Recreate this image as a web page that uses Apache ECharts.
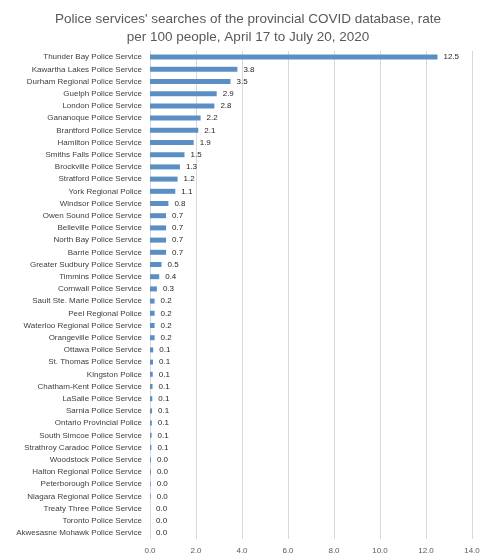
<!DOCTYPE html>
<html>
<head>
<meta charset="utf-8">
<script src="https://cdn.jsdelivr.net/npm/echarts@6/dist/echarts.min.js"></script>
<style>html,body{margin:0;padding:0;background:#fff}#chart{width:496px;height:560px}</style>
</head>
<body>
<div id="chart"></div>
<script>
// police services, top to bottom
var services = [
    'Thunder Bay Police Service', 'Kawartha Lakes Police Service', 'Durham Regional Police Service',
    'Guelph Police Service', 'London Police Service', 'Gananoque Police Service',
    'Brantford Police Service', 'Hamilton Police Service', 'Smiths Falls Police Service',
    'Brockville Police Service', 'Stratford Police Service', 'York Regional Police',
    'Windsor Police Service', 'Owen Sound Police Service', 'Belleville Police Service',
    'North Bay Police Service', 'Barrie Police Service', 'Greater Sudbury Police Service',
    'Timmins Police Service', 'Cornwall Police Service', 'Sault Ste. Marie Police Service',
    'Peel Regional Police', 'Waterloo Regional Police Service', 'Orangeville Police Service',
    'Ottawa Police Service', 'St. Thomas Police Service', 'Kingston Police',
    'Chatham-Kent Police Service', 'LaSalle Police Service', 'Sarnia Police Service',
    'Ontario Provincial Police', 'South Simcoe Police Service', 'Strathroy Caradoc Police Service',
    'Woodstock Police Service', 'Halton Regional Police Service', 'Peterborough Police Service',
    'Niagara Regional Police Service', 'Treaty Three Police Service', 'Toronto Police Service',
    'Akwesasne Mohawk Police Service'
];
var rates = [
    12.5, 3.8, 3.5, 2.9, 2.8, 2.2, 2.1, 1.9, 1.5, 1.3, 1.2, 1.1, 0.8, 0.7, 0.7, 0.7, 0.7,
    0.5, 0.4, 0.3, 0.2, 0.2, 0.2, 0.2, 0.14, 0.13, 0.12, 0.11, 0.1, 0.09, 0.08, 0.07, 0.06,
    0.04, 0.04, 0.03, 0.03, 0.0, 0.0, 0.0
];

var chart = echarts.init(document.getElementById('chart'));
chart.setOption({
    animation: false,
    title: {
        text: "Police services' searches of the provincial COVID database, rate\nper 100 people, April 17 to July 20, 2020",
        left: 'center', top: 5,
        textStyle: { fontFamily: 'Liberation Sans', fontSize: 13.5, fontWeight: 'normal', color: '#595959', lineHeight: 18 }
    },
    grid: { left: 150, right: 24, top: 51, bottom: 21 },
    xAxis: {
        type: 'value', min: 0, max: 14, interval: 2,
        axisLabel: { formatter: function (v) { return v.toFixed(1); }, fontFamily: 'Liberation Sans', fontSize: 8, color: '#595959' },
        splitLine: { lineStyle: { color: '#d9d9d9' } },
        axisLine: { show: false }, axisTick: { show: false }
    },
    yAxis: {
        type: 'category', inverse: true, data: services,
        axisLabel: { fontFamily: 'Liberation Sans', fontSize: 8, color: '#404040', margin: 8 },
        axisLine: { lineStyle: { color: '#d9d9d9' } }, axisTick: { show: false }
    },
    series: [{
        type: 'bar', data: rates, barWidth: 5,
        itemStyle: { color: '#5b8fc4' },
        label: {
            show: true, position: 'right', distance: 6,
            formatter: function (p) { return p.value.toFixed(1); },
            fontFamily: 'Liberation Sans', fontSize: 8, color: '#262626'
        }
    }]
});
</script>
</body>
</html>
